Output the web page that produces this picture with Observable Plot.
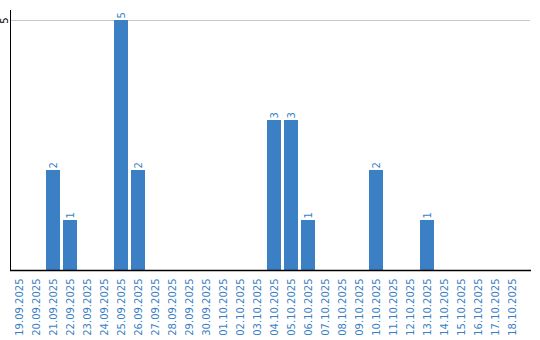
<!DOCTYPE html>
<html>
<head>
<meta charset="utf-8">
<script src="https://cdn.jsdelivr.net/npm/d3@7"></script>
<script src="https://cdn.jsdelivr.net/npm/@observablehq/plot@0.6"></script>
<style>
  html, body { margin: 0; padding: 0; background: #fff; }
</style>
</head>
<body>
<div id="chart"></div>
<script>
const dates = ["19.09.2025","20.09.2025","21.09.2025","22.09.2025","23.09.2025","24.09.2025","25.09.2025","26.09.2025","27.09.2025","28.09.2025","29.09.2025","30.09.2025","01.10.2025","02.10.2025","03.10.2025","04.10.2025","05.10.2025","06.10.2025","07.10.2025","08.10.2025","09.10.2025","10.10.2025","11.10.2025","12.10.2025","13.10.2025","14.10.2025","15.10.2025","16.10.2025","17.10.2025","18.10.2025"];
const counts = [0,0,2,1,0,0,5,2,0,0,0,0,0,0,0,3,3,1,0,0,0,2,0,0,1,0,0,0,0,0];
const yTicks = [5];

const data = dates.map((d, i) => ({date: d, value: counts[i]}));
const blue = "#3b7fc4";

const chart = Plot.plot({
  width: 540,
  height: 340,
  marginTop: 10,
  marginLeft: 10,
  marginRight: 20,
  marginBottom: 70,
  style: {fontFamily: "'DejaVu Sans'", fontSize: "10px", background: "#fff"},
  x: {domain: dates, paddingInner: 0.18, paddingOuter: 0, align: 0.5},
  y: {domain: [0, 5.2]},
  marks: [
    Plot.ruleY(yTicks, {stroke: "#c8c8c8", strokeWidth: 1, insetRight: -10}),
    Plot.barY(data, {x: "date", y: "value", fill: blue}),
    Plot.text(data.filter(d => d.value > 0), {
      x: "date", y: "value", text: d => String(d.value),
      rotate: -90, textAnchor: "start", dy: -2, fill: blue, fontSize: 10
    }),
    Plot.axisX({tickSize: 0, tickRotate: -90, tickPadding: 8, color: blue, label: null, fontSize: 10}),
    Plot.axisY({ticks: yTicks, tickFormat: d => String(d), tickSize: 0, tickRotate: -90, tickPadding: 3, label: null, color: "#000", fontSize: 10}),
    Plot.frame({anchor: "left", stroke: "#000"}),
    Plot.ruleY([0], {stroke: "#000", strokeWidth: 1.5, insetRight: -11})
  ]
});
document.getElementById("chart").appendChild(chart);
</script>
</body>
</html>
